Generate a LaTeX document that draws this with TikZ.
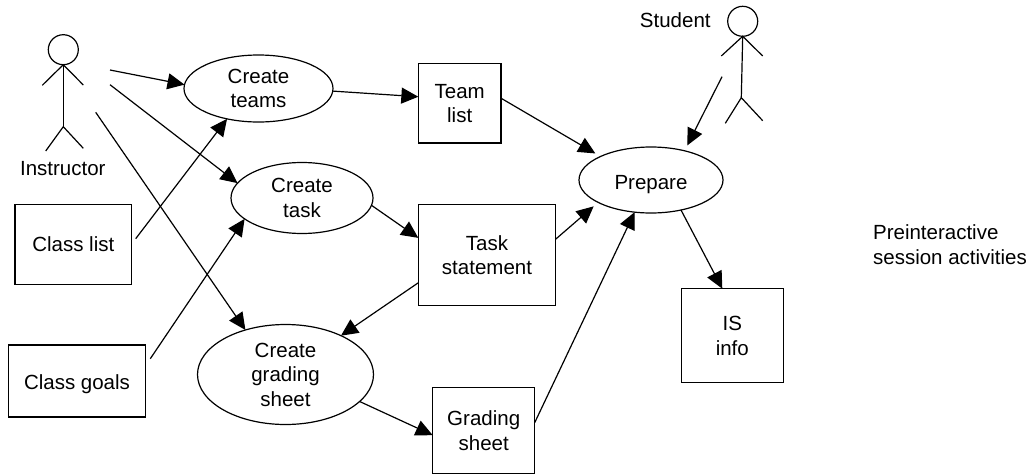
\documentclass[tikz,border=0pt]{standalone}
\usepackage{fontspec}
\setmainfont{Liberation Sans}
\usetikzlibrary{shapes.geometric,arrows.meta}
\tikzset{
	drop/.style={execute at begin node={\rule{0pt}{#1}}},
	usecase/.style={draw, line width=1.2pt, ellipse, inner sep=0pt, outer sep=0pt, align=center, font=\fontsize{20.5}{24.5}\selectfont},
	artifact/.style={draw, line width=1.2pt, rectangle, inner sep=0pt, outer sep=0pt, align=center, font=\fontsize{20.5}{24.5}\selectfont},
	lbl/.style={inner sep=0pt, align=left, font=\fontsize{20.5}{25}\selectfont},
	flow/.style={draw, line width=1.2pt, -{Triangle[length=17pt,width=16pt]}},
	gap/.style={shorten >=6pt},
	stick/.style={draw, line width=1.2pt}
}
\begin{document}
\begin{tikzpicture}[x=1pt, y=-1pt]
	\useasboundingbox (0,0) rectangle (1030,474);

	% use cases
	\node[usecase, minimum width=149pt, minimum height=67pt, drop=21pt] (teams) at (258.5,88.5) {Create\\teams};
	\node[usecase, minimum width=142pt, minimum height=71pt, drop=21pt] (task) at (302,198) {Create\\task};
	\node[usecase, minimum width=176pt, minimum height=100pt, drop=21pt] (grading) at (285.5,374.5) {Create\\grading\\sheet};
	\node[usecase, minimum width=144pt, minimum height=66pt, drop=23pt] (prepare) at (651,180) {Prepare};

	% artifacts
	\node[artifact, minimum width=82.7pt, minimum height=79.3pt, drop=21pt] (teamlist) at (459.7,103.3) {Team\\list};
	\node[artifact, minimum width=137.4pt, minimum height=100.6pt, drop=21pt] (statement) at (487,255) {Task\\statement};
	\node[artifact, minimum width=116.5pt, minimum height=79.5pt] (classlist) at (73.3,244.5) {Class list};
	\node[artifact, minimum width=137pt, minimum height=72pt, drop=22pt] (classgoals) at (77,381) {Class goals};
	\node[artifact, minimum width=102pt, minimum height=86pt, drop=21pt] (gradingsheet) at (483.7,430.7) {Grading\\sheet};
	\node[artifact, minimum width=102pt, minimum height=94pt, drop=21pt] (isinfo) at (732.3,335.7) {IS\\info};

	% labels
	\node[lbl] (instructorlbl) at (62.8,169) {Instructor};
	\node[lbl] (studentlbl) at (675.3,20) {Student};
	\node[lbl] (sessionlbl) at (950,245) {Preinteractive\\session activities};

	% instructor
	\node[stick, circle, minimum size=30pt, inner sep=0pt, outer sep=0pt] (instructorhead) at (63.3,49.7) {};
	\coordinate (instructorhip) at (63.3,126.7);
	\coordinate (instructorarmL) at (42.3,85.3);
	\coordinate (instructorarmR) at (83.3,85);
	\coordinate (instructorfootL) at (45.7,151);
	\coordinate (instructorfootR) at (83.3,148.3);
	\draw[stick] (instructorhead) -- (instructorhip);
	\draw[stick] (instructorarmL) -- (instructorhead.south) -- (instructorarmR);
	\draw[stick] (instructorfootL) -- (instructorhip) -- (instructorfootR);

	% student
	\node[stick, circle, minimum size=30pt, inner sep=0pt, outer sep=0pt] (studenthead) at (742.7,21.3) {};
	\coordinate (studenthip) at (741.3,97.7);
	\coordinate (studentarmL) at (721.3,56);
	\coordinate (studentarmR) at (762.7,56);
	\coordinate (studentfootL) at (725.3,123.3);
	\coordinate (studentfootR) at (762.7,120.7);
	\draw[stick] (studenthead.south) -- (studenthip);
	\draw[stick] (studentarmL) -- (studenthead.south) -- (studentarmR);
	\draw[stick] (studentfootL) -- (studenthip) -- (studentfootR);

	% free ends of connectors
	\coordinate (instructorA) at (110,70);
	\coordinate (instructorB) at (110,84.7);
	\coordinate (instructorC) at (95.7,112.3);
	\coordinate (studentA) at (722,76.7);
	\coordinate (classlistA) at (135.7,238.7);
	\coordinate (classgoalsA) at (150.3,358.7);

	\draw[flow] (instructorA) -- (teams.177.3);
	\draw[flow] (instructorB) -- (task.167);
	\draw[flow] (instructorC) -- (grading.132.8);
	\draw[flow] (classlistA) -- (teams.224.1);
	\draw[flow] (classgoalsA) -- (task.200);
	\draw[flow] (teams.-2) -- (teamlist.171.8);
	\draw[flow] (task.-6.2) -- (statement.166.3);
	\draw[flow] (statement.202.4) -- (grading.35.4);
	\draw[flow] (grading.-20.6) -- (gradingsheet.185.6);
	\draw[flow, gap] (teamlist.7.8) -- (prepare.155.7);
	\draw[flow, gap] (statement.13.8) -- (prepare.203.7);
	\draw[flow] (gradingsheet.9.4) -- (prepare.243.2);
	\draw[flow, gap] (studentA) -- (prepare.41.2);
	\draw[flow] (prepare.-45) -- (isinfo.102.7);
\end{tikzpicture}
\end{document}
